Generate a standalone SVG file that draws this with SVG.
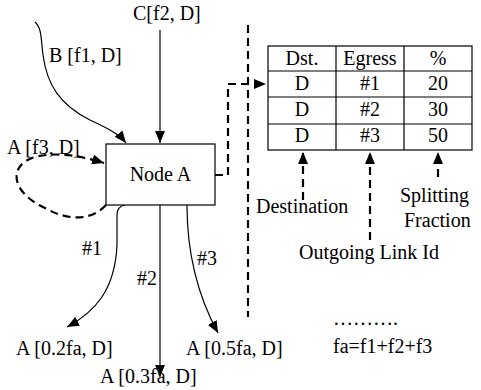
<svg xmlns="http://www.w3.org/2000/svg" width="481" height="390" viewBox="0 0 481 390">
<defs>
<style>
.t text{font-size:20px;fill:#000}
.m{text-anchor:middle}
.ln{fill:none;stroke:#000;stroke-width:1.2}
.ds{fill:none;stroke:#000;stroke-width:2.2;stroke-dasharray:8,5}
</style>
<marker id="ah" viewBox="0 0 12 10" refX="12" refY="5" markerWidth="12" markerHeight="10" markerUnits="userSpaceOnUse" orient="auto">
<path d="M0,0 L12,5 L0,10 Z" fill="#000"/>
</marker>
</defs>
<rect width="481" height="390" fill="#fff"/>
<g id="connectors">
<path class="ln" d="M160,30 L160,143" marker-end="url(#ah)"/>
<path class="ln" d="M35,22 C42,28 41,40 43,55 C47,85 60,105 90,120 C105,127 118,133 126,143" marker-end="url(#ah)"/>
<path class="ds" d="M106,205 C92,220 70,222 45,208 C10,192 8,165 35,157 C58,151 85,157 104,163" marker-end="url(#ah)"/>
<path class="ds" d="M215,175 L228,175 L228,84 L266,84" marker-end="url(#ah)"/>
<path class="ds" d="M248,25 L248,317"/>
<path class="ln" d="M125,205 C119,206 117,209 117,215 L117,245 C115,290 95,312 67,327" marker-end="url(#ah)"/>
<path class="ln" d="M160,205 L160,377" marker-end="url(#ah)"/>
<path class="ln" d="M187,205 C187,260 200,300 218,333" marker-end="url(#ah)"/>
<path class="ds" d="M303,200 L303,152" marker-end="url(#ah)"/>
<path class="ds" d="M370,240 L370,152" marker-end="url(#ah)"/>
<path class="ds" d="M438,177 L438,152" marker-end="url(#ah)"/>
</g>
<g class="t" font-family="Liberation Serif, DejaVu Serif, serif">
<g id="nodeA">
<rect x="106" y="144" width="109" height="61" fill="#fff" stroke="#000" stroke-width="1.2"/>
<text class="m" x="160.5" y="181">Node A</text>
</g>
<g id="table">
<rect x="268" y="46" width="204" height="104" fill="#fff" stroke="#000" stroke-width="1.2"/>
<path class="ln" d="M268,71 H472 M268,97 H472 M268,124 H472 M336,46 V150 M404,46 V150"/>
<text class="m" x="302" y="65">Dst.</text>
<text class="m" x="370" y="65">Egress</text>
<text class="m" x="438" y="65">%</text>
<text class="m" x="302" y="90">D</text>
<text class="m" x="370" y="90">#1</text>
<text class="m" x="438" y="90">20</text>
<text class="m" x="302" y="116">D</text>
<text class="m" x="370" y="116">#2</text>
<text class="m" x="438" y="116">30</text>
<text class="m" x="302" y="142">D</text>
<text class="m" x="370" y="142">#3</text>
<text class="m" x="438" y="142">50</text>
</g>
<g id="labels">
<text x="133" y="20">C[f2, D]</text>
<text x="49" y="62">B [f1, D]</text>
<text x="7" y="154">A [f3, D]</text>
<text x="82" y="255">#1</text>
<text x="137" y="285">#2</text>
<text x="197" y="265">#3</text>
<text x="16" y="355">A [0.2fa, D]</text>
<text x="100" y="383">A [0.3fa, D]</text>
<text x="186" y="355">A [0.5fa, D]</text>
<text x="256" y="213">Destination</text>
<text x="400" y="202">Splitting</text>
<text x="404" y="227">Fraction</text>
<text x="299" y="259">Outgoing Link Id</text>
<text x="333" y="325">……….</text>
<text x="333" y="353">fa=f1+f2+f3</text>
</g>
</g>
</svg>
